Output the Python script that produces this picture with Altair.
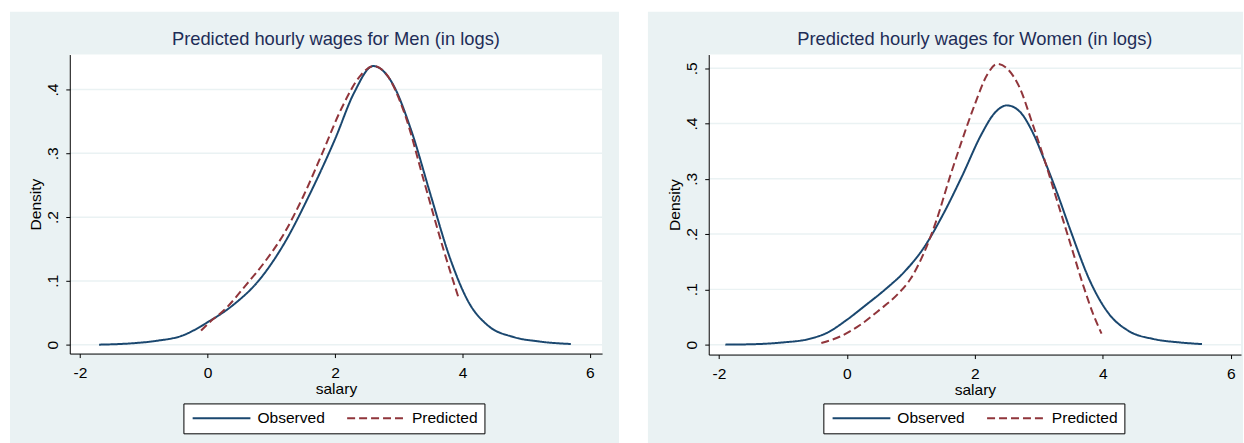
import altair as alt
import pandas as pd

# ---------------- data ----------------
series_names = ["Observed", "Predicted"]

men_obs_x = [-1.7, -1.2, -0.8, -0.4, 0.0, 0.4, 0.8, 1.2, 1.6, 2.0, 2.3, 2.6, 2.9, 3.2, 3.5, 3.8, 4.1, 4.4, 4.8, 5.2, 5.7]
men_obs_y = [0.000, 0.002, 0.006, 0.014, 0.035, 0.062, 0.100, 0.158, 0.235, 0.322, 0.395, 0.437, 0.410, 0.335, 0.235, 0.137, 0.066, 0.030, 0.012, 0.005, 0.001]

men_pred_x = [-0.1, 0.0, 0.3, 0.6, 0.9, 1.2, 1.5, 1.8, 2.1, 2.4, 2.6, 2.8, 3.1, 3.4, 3.7, 3.95]
men_pred_y = [0.022, 0.032, 0.058, 0.093, 0.130, 0.174, 0.232, 0.300, 0.370, 0.422, 0.437, 0.425, 0.360, 0.255, 0.150, 0.070]

women_obs_x = [-1.9, -1.4, -1.0, -0.6, -0.3, 0.0, 0.3, 0.6, 0.9, 1.2, 1.5, 1.8, 2.1, 2.3, 2.5, 2.7, 2.9, 3.1, 3.3, 3.5, 3.8, 4.1, 4.4, 4.8, 5.2, 5.55]
women_obs_y = [0.000, 0.001, 0.004, 0.010, 0.022, 0.045, 0.072, 0.100, 0.132, 0.175, 0.235, 0.305, 0.380, 0.418, 0.433, 0.422, 0.385, 0.330, 0.270, 0.205, 0.115, 0.055, 0.025, 0.010, 0.004, 0.001]

women_pred_x = [-0.4, -0.1, 0.2, 0.5, 0.8, 1.0, 1.2, 1.4, 1.6, 1.8, 2.0, 2.2, 2.35, 2.5, 2.7, 2.9, 3.1, 3.3, 3.5, 3.7, 3.85, 3.98]
women_pred_y = [0.003, 0.015, 0.035, 0.062, 0.092, 0.120, 0.165, 0.225, 0.300, 0.370, 0.435, 0.490, 0.508, 0.500, 0.465, 0.400, 0.330, 0.255, 0.180, 0.105, 0.055, 0.020]

x_ticks = [-2, 0, 2, 4, 6]
men_y_ticks = [0, 0.1, 0.2, 0.3, 0.4]
women_y_ticks = [0, 0.1, 0.2, 0.3, 0.4, 0.5]

men_title = "Predicted hourly wages for Men (in logs)"
women_title = "Predicted hourly wages for Women (in logs)"

# ---------------- styling ----------------
FONT = "Liberation Sans"
PANEL_BG = "#EAF2F3"
GRID = "#EAF2F3"
NAVY = "#1A476F"
MAROON = "#90353B"
TITLE_COL = "#1E2D57"
FS = 15.6


def make_df(ox, oy, px, py):
    rows = []
    for i, (x, y) in enumerate(zip(ox, oy)):
        rows.append({"salary": x, "density": y, "series": series_names[0], "ord": i})
    for i, (x, y) in enumerate(zip(px, py)):
        rows.append({"salary": x, "density": y, "series": series_names[1], "ord": i})
    return pd.DataFrame(rows)


def panel(df, title, xdom, ydom, yticks, w, h, rx0, rx1, legx):
    one = pd.DataFrame({"a": [0]})
    xs = alt.Scale(domain=xdom, nice=False, zero=False)
    ys = alt.Scale(domain=ydom, nice=False, zero=False)

    y_axis = alt.Axis(
        values=yticks,
        labelExpr="datum.value == 0 ? '0' : replace(format(datum.value, '.1f'), '0.', '.')",
        title="Density", grid=False, zindex=1, tickSize=4, labelPadding=8,
        labelAngle=270, labelAlign="center", labelBaseline="alphabetic",
        titlePadding=2, labelFontSize=FS, titleFontSize=FS, titleFontWeight="normal",
        domainColor="black", tickColor="black", labelColor="black", titleColor="black",
    )
    x_axis = alt.Axis(
        values=x_ticks, labelExpr="toString(datum.value)", title="salary",
        grid=False, zindex=1, tickSize=4, labelPadding=8, titlePadding=0,
        labelFontSize=FS, titleFontSize=FS, titleFontWeight="normal",
        domainColor="black", tickColor="black", labelColor="black", titleColor="black",
    )

    bg = alt.Chart(one).mark_rect(color=PANEL_BG).encode(
        x=alt.value(rx0), x2=alt.value(rx1), y=alt.value(-43), y2=alt.value(390)
    )
    white = alt.Chart(one).mark_rect(color="white").encode(
        x=alt.value(0), x2=alt.value(w), y=alt.value(0), y2=alt.value(h)
    )
    grid = alt.Chart(pd.DataFrame({"v": yticks})).mark_rule(
        color=GRID, strokeWidth=1.5
    ).encode(y=alt.Y("v:Q", scale=ys, axis=y_axis))

    leg = alt.Legend(
        title=None, orient="none", legendX=legx, legendY=350,
        direction="horizontal", symbolType="M-4,0H4", symbolSize=210,
        symbolStrokeWidth=2, symbolOffset=23.75, labelOffset=27.5,
        labelFontSize=FS, labelColor="black", labelFont=FONT,
        strokeColor="black", fillColor="white", padding=6,
        columnPadding=18, cornerRadius=0,
    )
    lines = alt.Chart(df).mark_line(strokeWidth=2, interpolate="monotone").encode(
        x=alt.X("salary:Q", scale=xs, axis=x_axis),
        y=alt.Y("density:Q", scale=ys, axis=y_axis),
        color=alt.Color("series:N", scale=alt.Scale(domain=series_names, range=[NAVY, MAROON]), legend=leg),
        strokeDash=alt.StrokeDash("series:N", scale=alt.Scale(domain=series_names, range=[[1, 0], [8, 4]]), legend=leg),
        order="ord:Q",
    )
    return alt.layer(bg, white, grid, lines).properties(
        width=w, height=h,
        title=alt.TitleParams(title, fontSize=18.4, font=FONT, color=TITLE_COL,
                              fontWeight="normal", anchor="middle", offset=-37),
    )


men = panel(make_df(men_obs_x, men_obs_y, men_pred_x, men_pred_y), men_title,
            [-2.16, 6.19], [-0.014, 0.455], men_y_ticks, 534, 300, -60, 551, 114)
women = panel(make_df(women_obs_x, women_obs_y, women_pred_x, women_pred_y), women_title,
              [-2.16, 6.16], [-0.018, 0.525], women_y_ticks, 534, 301, -61, 536, 115)

chart = alt.hconcat(men, women, spacing=27).resolve_scale(
    color="independent", strokeDash="independent", x="independent", y="independent"
).resolve_legend(color="independent", strokeDash="independent").properties(
    padding={"left": 9, "top": 10, "right": 0, "bottom": 0}, background="white"
).configure_view(strokeWidth=0).configure(font=FONT)

chart.save("out.html", embed_options={"renderer": "svg", "actions": False})
